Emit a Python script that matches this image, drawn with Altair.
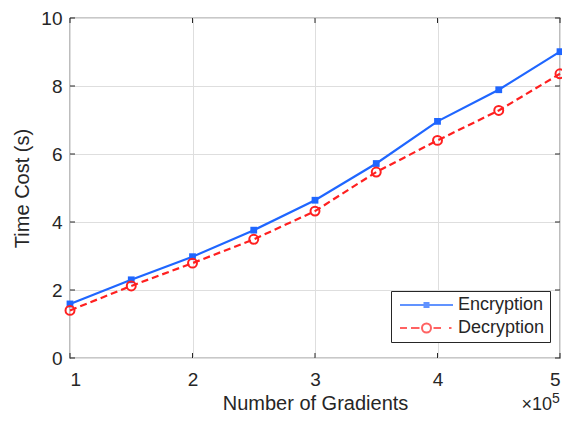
import altair as alt
import pandas as pd

x_vals = [1, 1.5, 2, 2.5, 3, 3.5, 4, 4.5, 5]
enc_vals = [1.59, 2.30, 2.98, 3.76, 4.64, 5.72, 6.96, 7.89, 9.01]
dec_vals = [1.40, 2.12, 2.79, 3.49, 4.32, 5.47, 6.40, 7.28, 8.36]
series = ["Encryption", "Decryption"]
x_ticks = [1, 2, 3, 4, 5]
y_ticks = [0, 2, 4, 6, 8, 10]

BLUE = "#1f66ff"
RED = "#ff2020"
DARK = "#262626"
FONT = "Liberation Sans"
W, H = 490, 340

df = pd.DataFrame({
    "x": x_vals * 2,
    "y": enc_vals + dec_vals,
    "series": [series[0]] * len(x_vals) + [series[1]] * len(x_vals),
})
xt = pd.DataFrame({"x": x_ticks})
yt = pd.DataFrame({"y": y_ticks})

xscale = alt.Scale(domain=[1, 5], nice=False, zero=False)
yscale = alt.Scale(domain=[0, 10], nice=False)
xaxis = alt.Axis(values=x_ticks, format="d", title="Number of Gradients",
                 grid=True, tickSize=0, domain=False, labelPadding=12, titlePadding=4)
yaxis = alt.Axis(values=y_ticks, format="d", title="Time Cost (s)",
                 grid=True, tickSize=0, domain=False, labelPadding=8, titlePadding=8)

def X(f="x"):
    return alt.X(f"{f}:Q", scale=xscale, axis=xaxis)

def Y(f="y"):
    return alt.Y(f"{f}:Q", scale=yscale, axis=yaxis)

enc_df = alt.Chart(df).transform_filter(alt.datum.series == series[0])
dec_df = alt.Chart(df).transform_filter(alt.datum.series == series[1])

enc_line = enc_df.mark_line(color=BLUE, strokeWidth=2.2).encode(x=X(), y=Y())
enc_pts = enc_df.mark_point(shape="square", filled=True, color=BLUE, size=46, opacity=1).encode(x=X(), y=Y())
dec_line = dec_df.mark_line(color=RED, strokeWidth=2.2, strokeDash=[7, 4]).encode(x=X(), y=Y())
dec_pts = dec_df.mark_point(shape="circle", filled=False, color=RED, size=80, strokeWidth=2, opacity=1).encode(x=X(), y=Y())

# legend symbols: line + marker
path_enc = ("M-1,0H9.6M3.7,-0.4H4.9M3.7,0H4.9M3.7,0.4H4.9")
path_dec = ("M-1,0H0.4M1.2,0H2.9M3.4,0A0.9,0.9 0 1,0 5.2,0A0.9,0.9 0 1,0 3.4,0"
            "M5.7,0H7.2M8.8,0H9.3")

legend_layer = alt.Chart(df).transform_filter("false").mark_point(filled=False, strokeWidth=2).encode(
    x=X(), y=Y(),
    color=alt.Color("series:N", scale=alt.Scale(domain=series, range=[BLUE, RED]), title=None),
    shape=alt.Shape("series:N", scale=alt.Scale(domain=series, range=[path_enc, path_dec]), title=None),
)

tick_b = alt.Chart(xt).mark_rule(color=DARK, strokeWidth=1).encode(x=X(), y=alt.value(H), y2=alt.value(H - 5))
tick_t = alt.Chart(xt).mark_rule(color=DARK, strokeWidth=1).encode(x=X(), y=alt.value(0), y2=alt.value(5))
tick_l = alt.Chart(yt).mark_rule(color=DARK, strokeWidth=1).encode(y=Y(), x=alt.value(0), x2=alt.value(5))
tick_r = alt.Chart(yt).mark_rule(color=DARK, strokeWidth=1).encode(y=Y(), x=alt.value(W), x2=alt.value(W - 5))

exp_df = pd.DataFrame({"base": ["×10"], "sup": ["5"]})
exp_base = alt.Chart(exp_df).mark_text(align="right", baseline="alphabetic", fontSize=18,
                                       font=FONT, color=DARK).encode(
    text="base:N", x=alt.value(482), y=alt.value(392))
exp_sup = alt.Chart(exp_df).mark_text(align="left", baseline="alphabetic", fontSize=14,
                                      font=FONT, color=DARK).encode(
    text="sup:N", x=alt.value(482), y=alt.value(385))

chart = alt.layer(
    tick_b, tick_t, tick_l, tick_r,
    enc_line, dec_line, enc_pts, dec_pts, legend_layer, exp_base, exp_sup,
).properties(
    width=W, height=H,
    autosize=alt.AutoSizeParams(type="none"),
    padding={"left": 62, "top": 10, "right": 2, "bottom": 57},
).configure_view(
    stroke=DARK, strokeWidth=1.2,
).configure_axis(
    labelFont=FONT, titleFont=FONT, labelFontSize=19, titleFontSize=20,
    labelColor=DARK, titleColor=DARK, titleFontWeight="normal",
    gridColor="#dedede", gridWidth=1,
).configure_legend(
    orient="none", legendX=321, legendY=273,
    strokeColor=DARK, fillColor="white", padding=5,
    symbolSize=100, symbolStrokeWidth=2,
    labelFont=FONT, labelFontSize=18, labelColor=DARK,
    labelOffset=44, rowPadding=5,
)

chart.save("out.html", embed_options={"renderer": "svg", "actions": False})
